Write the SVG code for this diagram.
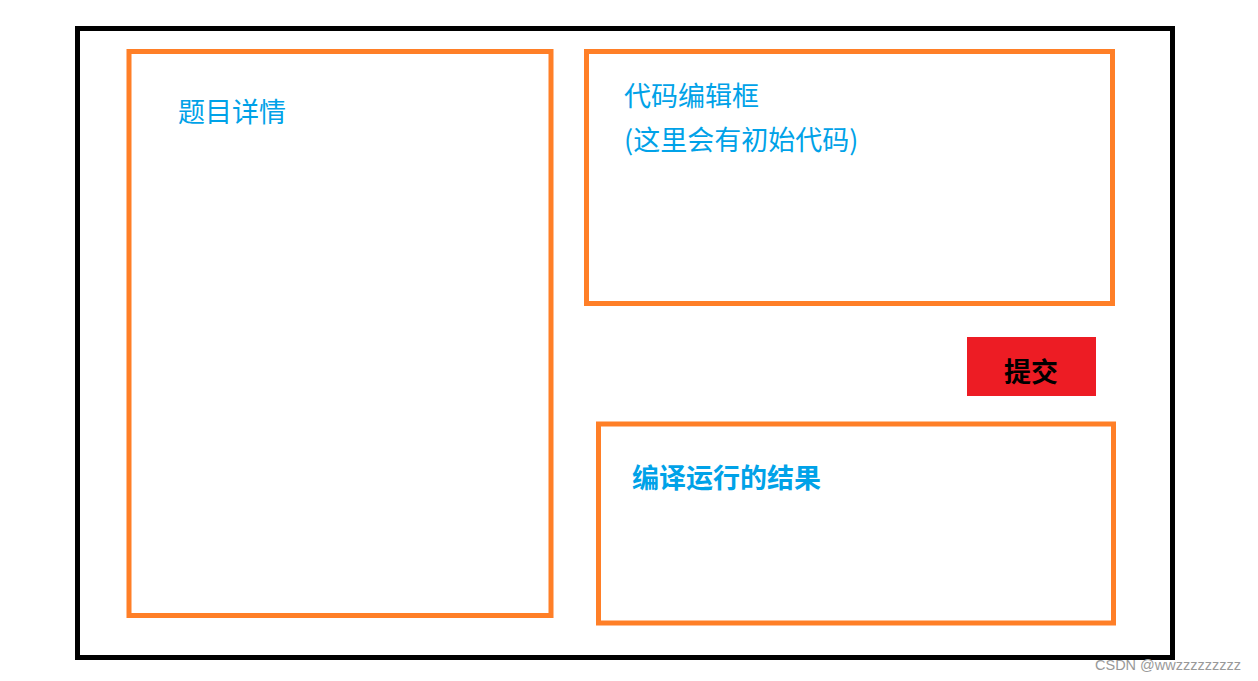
<svg xmlns="http://www.w3.org/2000/svg" width="1258" height="681" viewBox="0 0 1258 681">
<style>
.frame{fill:none;stroke:#000;stroke-width:5}
.box{fill:none;stroke:#FF7F27;stroke-width:5}
.t{font-family:"Microsoft YaHei","Noto Sans CJK SC",sans-serif;font-size:27px;fill:#00A2E8}
.b{font-weight:bold}
.wm{font-family:"Liberation Sans",Arial,sans-serif;font-size:14.5px;fill:#999}
</style>
<rect width="1258" height="681" fill="#fff"/>
<g id="frame"><rect class="frame" x="77.5" y="28.5" width="1095" height="629"/></g>
<g id="detail"><rect class="box" x="129" y="51.5" width="422" height="564"/><text class="t" x="178" y="122">题目详情</text></g>
<g id="editor"><rect class="box" x="586.5" y="51.5" width="526" height="252"/><text class="t" x="624" y="106">代码编辑框</text><text class="t" x="624" y="150">(这里会有初始代码)</text></g>
<g id="submit"><rect x="967" y="337" width="129" height="59" fill="#ED1C24"/><text class="t b" x="1031" y="382" text-anchor="middle" style="fill:#000">提交</text></g>
<g id="result"><rect class="box" x="598.5" y="424" width="515" height="199"/><text class="t b" x="632" y="488">编译运行的结果</text></g>
<g id="connectors"></g>
<text class="wm" x="1095" y="670">CSDN @wwzzzzzzzzz</text>
</svg>
